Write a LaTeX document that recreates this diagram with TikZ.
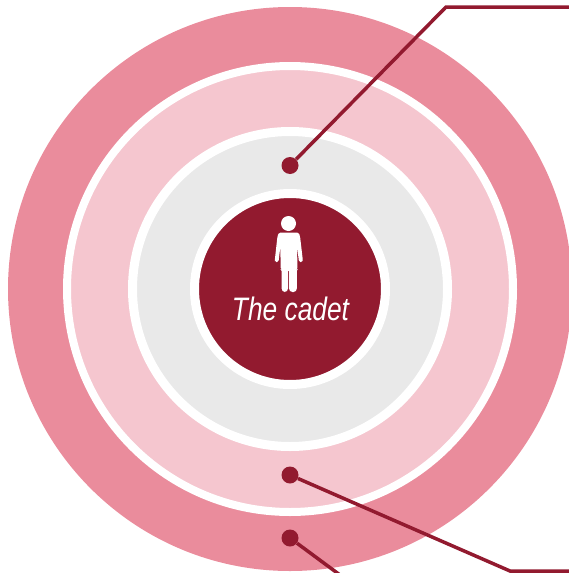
\documentclass[tikz,border=0pt]{standalone}
\usepackage{fontspec}
\setmainfont{Liberation Sans}
\usetikzlibrary{positioning}
\definecolor{cadetred}{HTML}{921A2F}
\definecolor{ringrose}{HTML}{EA8C9C}
\definecolor{ringpink}{HTML}{F5C6CF}
\definecolor{ringgrey}{HTML}{E9E9E9}
\tikzset{
  ring/.style={circle, inner sep=0pt, outer sep=0pt, draw=white},
  dot/.style={circle, inner sep=0pt, minimum size=17pt, fill=cadetred},
  lead/.style={draw=cadetred, line width=3.5pt, miter limit=10},
  title/.style={font=\fontsize{32.5}{32}\selectfont\itshape, color=white, xscale=0.81, inner sep=0pt},
}
\begin{document}
\begin{tikzpicture}[x=1pt,y=-1pt]
    \useasboundingbox (0,0) rectangle (569,573);
    \node[circle, inner sep=0pt, fill=ringrose, minimum size=564pt] (outer) at (290,289) {};
    \node[ring, fill=ringpink, line width=8pt, minimum size=446pt] (social) at (290,289) {};
    \node[ring, fill=ringgrey, line width=9pt, minimum size=315pt] (family) at (290,289) {};
    \node[ring, fill=cadetred, line width=9pt, minimum size=191pt] (core) at (290,289) {};
    \node[title] (cadet) at (290.5,309) {The cadet};
    % figure above the title
    \node[circle, inner sep=0pt, fill=white, minimum size=15pt] (head) at (288.5,223.5) {};
    \fill[white, rounded corners=1.5pt] (279,232.5) -- (298.5,232.5) -- (300,236) -- (302.8,260) -- (302.5,262) -- (299,262)
      -- (297,246) -- (297.5,269) -- (296.8,269.5) -- (296.8,290) -- (295,292) -- (291,292) -- (289,290) -- (289,269.5)
      -- (288,269.5) -- (288,290) -- (286,292) -- (283.5,292) -- (281.6,290) -- (281.6,269.5) -- (280.6,269)
      -- (280.4,246) -- (278.5,262) -- (275,262) -- (274.8,260) -- (277.5,236) -- cycle;
    \node[dot] (top) at (290,165.5) {};
    \node[dot] (mid) at (290,475) {};
    \node[dot] (low) at (290,538) {};
    \coordinate (topk) at (446,7);
    \coordinate (tope) at (569,7);
    \coordinate (midk) at (510,571);
    \coordinate (mide) at (569,571);
    \coordinate (lowe) at (340,575);
    \draw[lead] (top) -- (topk) -- (tope);
    \draw[lead] (mid) -- (midk) -- (mide);
    \draw[lead] (low) -- (lowe);
  \end{tikzpicture}
\end{document}
